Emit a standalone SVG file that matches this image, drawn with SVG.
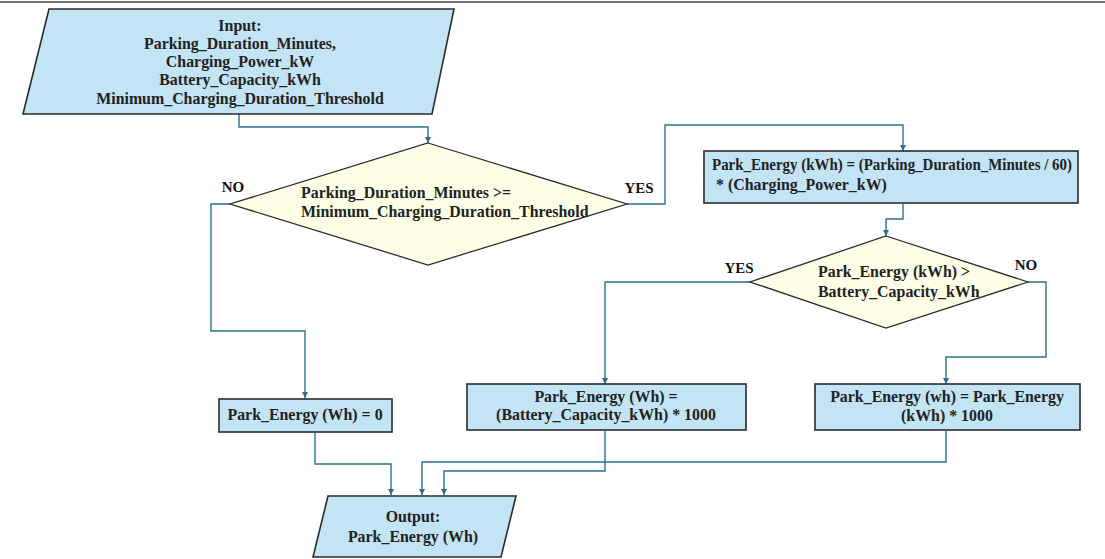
<svg xmlns="http://www.w3.org/2000/svg" width="1105" height="559" viewBox="0 0 1105 559">
<style>
.box{fill:#C3E4F4;stroke:#2B2B2B;stroke-width:1.6}
.dia{fill:#FFFFE8;stroke:#2B2B2B;stroke-width:1.3}
.t{font-family:"Liberation Serif","Times New Roman",serif;font-weight:bold;font-size:15.9px;fill:#222}
.c{text-anchor:middle}
.lbl{font-family:"Liberation Serif","Times New Roman",serif;font-weight:bold;font-size:15px;fill:#111;text-anchor:middle}
.conn{fill:none;stroke:#2A6F93;stroke-width:1.4}
</style>
<defs>
<marker id="ah" viewBox="0 0 10 10" refX="10" refY="5" markerWidth="6" markerHeight="6" markerUnits="userSpaceOnUse" orient="auto">
<path d="M0,0 L10,5 L0,10 Z" fill="#2A6F93"/>
</marker>
</defs>
<rect width="1105" height="559" fill="#FFFFFF"/>
<line x1="0" y1="2" x2="1105" y2="2" stroke="#444" stroke-width="1.5"/>

<g id="connectors">
<path class="conn" d="M239,114 V127 H428 V143" marker-end="url(#ah)"/>
<path class="conn" d="M230,204 H211 V331 H305 V398" marker-end="url(#ah)"/>
<path class="conn" d="M627,204 H665 V125 H903 V151" marker-end="url(#ah)"/>
<path class="conn" d="M903,204 V219 H886 V236" marker-end="url(#ah)"/>
<path class="conn" d="M750,282 H605 V384" marker-end="url(#ah)"/>
<path class="conn" d="M1028,282 H1046 V357 H946 V384" marker-end="url(#ah)"/>
<path class="conn" d="M315,433 V464 H391 V495" marker-end="url(#ah)"/>
<path class="conn" d="M605,431 V471 H444 V495" marker-end="url(#ah)"/>
<path class="conn" d="M946,431 V462 H422 V495" marker-end="url(#ah)"/>
</g>

<g id="input">
<polygon class="box" points="49,9 454,9 432,114 23,114"/>
<text class="t c" x="240" y="31">Input:</text>
<text class="t c" x="240" y="49">Parking_Duration_Minutes,</text>
<text class="t c" x="240" y="67">Charging_Power_kW</text>
<text class="t c" x="240" y="85">Battery_Capacity_kWh</text>
<text class="t c" x="240" y="104">Minimum_Charging_Duration_Threshold</text>
</g>

<g id="decision1">
<polygon class="dia" points="428,143 627,204 428,265 230,204"/>
<text class="t" x="301" y="198">Parking_Duration_Minutes &gt;=</text>
<text class="t" x="301" y="217">Minimum_Charging_Duration_Threshold</text>
</g>
<text class="lbl" x="233" y="192">NO</text>
<text class="lbl" x="639" y="193">YES</text>

<g id="calc_kwh">
<rect class="box" x="704" y="151" width="374" height="52"/>
<text class="t" x="712" y="170" textLength="360" lengthAdjust="spacingAndGlyphs">Park_Energy (kWh) = (Parking_Duration_Minutes / 60)</text>
<text class="t" x="716" y="190">* (Charging_Power_kW)</text>
</g>

<g id="decision2">
<polygon class="dia" points="886,236 1028,282 886,328 750,282"/>
<text class="t" x="818" y="277">Park_Energy (kWh) &gt;</text>
<text class="t" x="818" y="297">Battery_Capacity_kWh</text>
</g>
<text class="lbl" x="739" y="273">YES</text>
<text class="lbl" x="1026" y="270">NO</text>

<g id="zero">
<rect class="box" x="219" y="399" width="173" height="33"/>
<text class="t c" x="305" y="420">Park_Energy (Wh) = 0</text>
</g>

<g id="capped">
<rect class="box" x="467" y="384" width="279" height="46"/>
<text class="t c" x="606" y="402">Park_Energy (Wh) =</text>
<text class="t c" x="606" y="420">(Battery_Capacity_kWh) * 1000</text>
</g>

<g id="convert">
<rect class="box" x="815" y="384" width="265" height="46"/>
<text class="t c" x="947" y="402">Park_Energy (wh) = Park_Energy</text>
<text class="t c" x="947" y="421">(kWh) * 1000</text>
</g>

<g id="output">
<polygon class="box" points="328,496 516,496 501,557 313,557"/>
<text class="t c" x="413" y="522">Output:</text>
<text class="t c" x="413" y="542">Park_Energy (Wh)</text>
</g>
</svg>
